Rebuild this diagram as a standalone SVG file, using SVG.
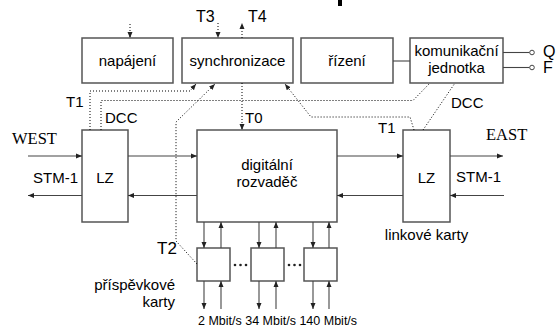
<svg xmlns="http://www.w3.org/2000/svg" width="556" height="332" viewBox="0 0 556 332">
<defs>
<marker id="ah" markerUnits="userSpaceOnUse" markerWidth="7" markerHeight="6" refX="6" refY="3" orient="auto">
<path d="M0,0.5 L6,3 L0,5.5 z" fill="#222"/>
</marker>
<style>
.box{fill:#fff;stroke:#555;stroke-width:1.5}
.ln{fill:none;stroke:#444;stroke-width:1.1}
.ar{fill:none;stroke:#444;stroke-width:1.1;marker-end:url(#ah)}
.dt{fill:none;stroke:#000;stroke-width:1;stroke-dasharray:1 2}
.dta{fill:none;stroke:#000;stroke-width:1;stroke-dasharray:1 2;marker-end:url(#ah)}
.t{font-family:"Liberation Sans",Arial,sans-serif;font-size:15px;fill:#000}
.c{text-anchor:middle}
.s{font-family:"Liberation Serif","Times New Roman",serif;font-size:16.5px;fill:#000}
</style>
</defs>
<rect width="556" height="332" fill="#fff"/>
<rect x="338" y="0" width="4" height="6" fill="#000"/>

<g id="napajeni"><rect class="box" x="82" y="38" width="91" height="45"/><text class="t c" x="127.5" y="66">napájení</text></g>
<g id="synchronizace"><rect class="box" x="182" y="38" width="111" height="45"/><text class="t c" x="237.5" y="66">synchronizace</text></g>
<g id="rizeni"><rect class="box" x="301" y="38" width="92" height="45"/><text class="t c" x="347" y="66">řízení</text></g>
<g id="komunikacni"><rect class="box" x="410" y="38" width="93" height="45"/><text class="t c" x="456.5" y="56">komunikační</text><text class="t c" x="456.5" y="73">jednotka</text></g>
<g id="lz-west"><rect class="box" x="82" y="130" width="46" height="92"/><text class="t c" x="105" y="183">LZ</text></g>
<g id="rozvadec"><rect class="box" x="197" y="130" width="140" height="92"/><text class="t c" x="267" y="170">digitální</text><text class="t c" x="267" y="187">rozvaděč</text></g>
<g id="lz-east"><rect class="box" x="403" y="130" width="47" height="92"/><text class="t c" x="426.5" y="183">LZ</text></g>
<g id="trib1"><rect class="box" x="197" y="248" width="33" height="33"/></g>
<g id="trib2"><rect class="box" x="251" y="248" width="33" height="33"/></g>
<g id="trib3"><rect class="box" x="304" y="248" width="33" height="33"/></g>

<g id="connectors">
<line class="ln" x1="393" y1="61" x2="410" y2="61"/>
<line class="ln" x1="503" y1="52.5" x2="529.5" y2="52.5"/>
<line class="ln" x1="503" y1="67.5" x2="529.5" y2="67.5"/>
<circle cx="532" cy="52.5" r="2.3" fill="#fff" stroke="#444" stroke-width="1"/>
<circle cx="532" cy="67.5" r="2.3" fill="#fff" stroke="#444" stroke-width="1"/>

<path class="ar" d="M28,156 H82"/>
<path class="ar" d="M128,156 H197"/>
<path class="ar" d="M337,156 H403"/>
<path class="ar" d="M450,156 H503"/>
<path class="ar" d="M504,195.5 H450"/>
<path class="ar" d="M403,195.5 H337"/>
<path class="ar" d="M197,195.5 H128"/>
<path class="ar" d="M82,195.5 H28"/>

<path class="ar" d="M204,222 V248"/>
<path class="ar" d="M221,248 V222"/>
<path class="ar" d="M259,222 V248"/>
<path class="ar" d="M276,248 V222"/>
<path class="ar" d="M313,222 V248"/>
<path class="ar" d="M329,248 V222"/>
<path class="ar" d="M204,281 V309"/>
<path class="ar" d="M221,309 V281"/>
<path class="ar" d="M259,281 V309"/>
<path class="ar" d="M276,309 V281"/>
<path class="ar" d="M313,281 V309"/>
<path class="ar" d="M329,309 V281"/>

<g fill="#222"><circle cx="235" cy="265" r="1.3"/><circle cx="240.5" cy="265" r="1.3"/><circle cx="246" cy="265" r="1.3"/><circle cx="289" cy="265" r="1.3"/><circle cx="294.5" cy="265" r="1.3"/><circle cx="300" cy="265" r="1.3"/></g>

<path class="dta" d="M130,24 V38"/>
<path class="dta" d="M218,23 V38"/>
<path class="dta" d="M242,38 V23"/>
<path class="dta" d="M90,130 V91 H190 L196,84"/>
<path class="dt" d="M101,130 V100.5 H413 L430,83"/>
<path class="dta" d="M197,264 L176,241 V122 L215,84"/>
<path class="dta" d="M242,83 V130"/>
<path class="dta" d="M414,130 L410,117 H311 L285,84"/>
<path class="dt" d="M423,130 L455,83"/>
</g>

<text class="t" x="196" y="22" style="font-size:16px">T3</text>
<text class="t" x="248" y="22" style="font-size:16px">T4</text>
<text class="t" x="543" y="57" style="font-size:16px">Q</text>
<text class="t" x="543" y="73" style="font-size:16px">F</text>
<text class="t" x="66" y="107">T1</text>
<text class="t" x="105" y="123">DCC</text>
<text class="t" x="245" y="123">T0</text>
<text class="t" x="378" y="133">T1</text>
<text class="t" x="451" y="108">DCC</text>
<text class="s" x="12" y="144">WEST</text>
<text class="s" x="486" y="140">EAST</text>
<text class="t" x="33" y="183">STM-1</text>
<text class="t" x="456" y="182">STM-1</text>
<text class="t c" x="426.5" y="240">linkové karty</text>
<text class="t" x="157" y="254" style="font-size:17px">T2</text>
<text class="t" x="175" y="290" text-anchor="end">příspěvkové</text>
<text class="t" x="175" y="307" text-anchor="end">karty</text>
<text class="t" x="198" y="325" style="font-size:12.5px">2 Mbit/s 34 Mbit/s 140 Mbit/s</text>
</svg>
